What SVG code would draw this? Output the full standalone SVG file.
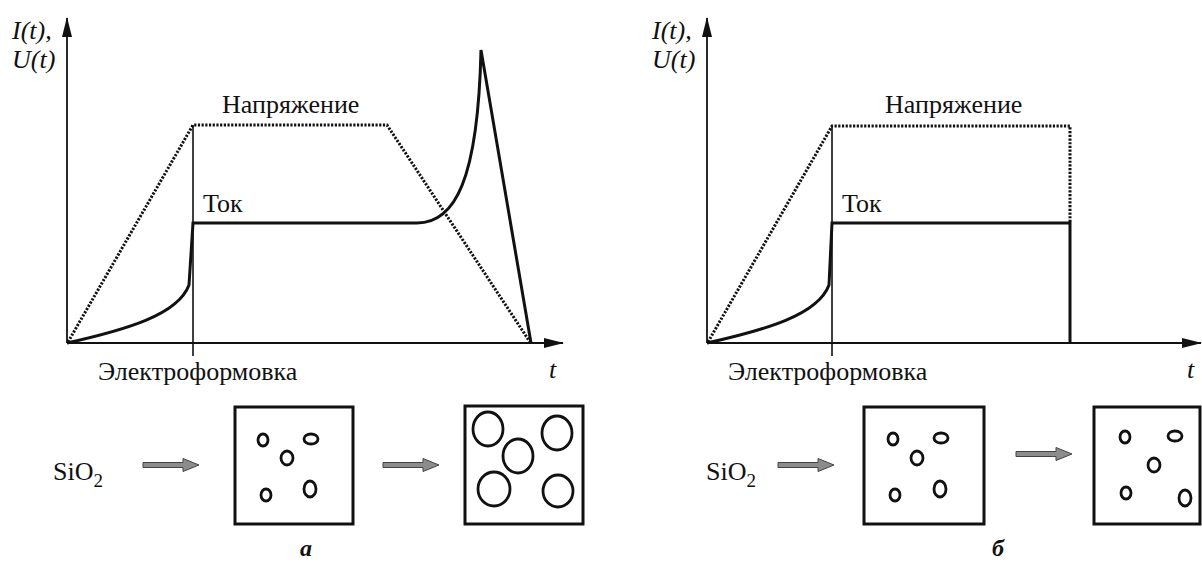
<svg xmlns="http://www.w3.org/2000/svg" width="1202" height="572" viewBox="0 0 1202 572">
<style>
text{font-family:"Liberation Serif","Times New Roman","DejaVu Serif",serif;fill:#111}
.t{font-size:26px}
.it{font-size:26px;font-style:italic}
.lb{font-size:24px;font-style:italic;font-weight:bold}
.ax{stroke:#111;stroke-width:1.8;fill:none}
.cur{stroke:#111;stroke-width:3;fill:none;stroke-linejoin:miter}
.volt{stroke:#111;stroke-width:3;fill:none;stroke-dasharray:2.2 1.5}
.thin{stroke:#111;stroke-width:1.6;fill:none}
.box{stroke:#111;stroke-width:3;fill:#fff}
.pore{stroke:#111;stroke-width:2.8;fill:none}
.garr{fill:#8c8c8c;stroke:#444;stroke-width:1}
</style>
<defs>
<marker id="ah" markerWidth="20" markerHeight="12" refX="19" refY="5" orient="auto" markerUnits="userSpaceOnUse">
<path d="M0,0 L20,5 L0,10 Z" fill="#111"/>
</marker>
<path id="garrow" class="garr" d="M0,-2.5 L40,-2.5 L40,-6.5 L56,0 L40,6.5 L40,2.5 L0,2.5 Z"/>
</defs>

<g id="connectors">
<line class="ax" x1="67" y1="343" x2="67" y2="18" marker-end="url(#ah)"/>
<line class="ax" x1="67" y1="343" x2="563" y2="343" marker-end="url(#ah)"/>
<line class="ax" x1="707" y1="343" x2="707" y2="18" marker-end="url(#ah)"/>
<line class="ax" x1="707" y1="343" x2="1201" y2="343" marker-end="url(#ah)"/>
</g>

<g id="panel-a-graph">
<line class="thin" x1="193" y1="125" x2="193" y2="356"/>
<path class="volt" d="M68,342 L193,125 L387,125 L530,342"/>
<path class="cur" d="M67,343 C125,330 178,315 189,285 L193,223 L417,223 C455,223 478,180 481,50 L531,343"/>
</g>

<g id="panel-b-graph">
<line class="thin" x1="832" y1="126" x2="832" y2="356"/>
<path class="volt" d="M708,342 L832,126 L1070,126 L1070,223"/>
<path class="cur" d="M707,343 C765,330 818,315 829,285 L832,223 L1070,223 L1070,343"/>
</g>

<g id="labels-a">
<text class="it" x="12" y="39">I(t),</text>
<text class="it" x="12" y="68">U(t)</text>
<text class="t" x="222" y="113">Напряжение</text>
<text class="t" x="203" y="212">Ток</text>
<text class="t" x="98" y="380">Электроформовка</text>
<text class="it" x="549" y="378">t</text>
<text class="lb" x="300" y="556">а</text>
</g>

<g id="labels-b">
<text class="it" x="652" y="39">I(t),</text>
<text class="it" x="652" y="68">U(t)</text>
<text class="t" x="885" y="113">Напряжение</text>
<text class="t" x="842" y="212">Ток</text>
<text class="t" x="728" y="380">Электроформовка</text>
<text class="it" x="1187" y="378">t</text>
<text class="lb" x="992" y="556">б</text>
</g>

<g id="bottom-a">
<text class="t" x="53" y="480">SiO<tspan font-size="19" dy="7">2</tspan></text>
<use href="#garrow" x="143" y="465"/>
<g id="sample-a1">
<rect class="box" x="235" y="407" width="118" height="117"/>
<ellipse class="pore" cx="263" cy="440" rx="5" ry="6"/>
<ellipse class="pore" cx="311" cy="439" rx="7" ry="5"/>
<ellipse class="pore" cx="287" cy="458" rx="6" ry="7"/>
<ellipse class="pore" cx="266" cy="495" rx="5" ry="6"/>
<ellipse class="pore" cx="310" cy="489" rx="6" ry="8"/>
</g>
<use href="#garrow" x="383" y="465"/>
<g id="sample-a2">
<rect class="box" x="465" y="406" width="118" height="118"/>
<ellipse class="pore" cx="488" cy="429" rx="15" ry="17"/>
<ellipse class="pore" cx="557" cy="433" rx="15" ry="17"/>
<ellipse class="pore" cx="518" cy="456" rx="15" ry="17"/>
<ellipse class="pore" cx="494" cy="489" rx="16" ry="17"/>
<ellipse class="pore" cx="558" cy="491" rx="15" ry="16"/>
</g>
</g>

<g id="bottom-b">
<text class="t" x="706" y="480">SiO<tspan font-size="19" dy="7">2</tspan></text>
<use href="#garrow" x="778" y="465"/>
<g id="sample-b1">
<rect class="box" x="864" y="407" width="120" height="117"/>
<ellipse class="pore" cx="893" cy="439" rx="5" ry="6"/>
<ellipse class="pore" cx="941" cy="438" rx="7" ry="5"/>
<ellipse class="pore" cx="917" cy="458" rx="6" ry="7"/>
<ellipse class="pore" cx="895" cy="495" rx="5" ry="6"/>
<ellipse class="pore" cx="940" cy="489" rx="6" ry="8"/>
</g>
<use href="#garrow" x="1016" y="454"/>
<g id="sample-b2">
<rect class="box" x="1094" y="407" width="106" height="117"/>
<ellipse class="pore" cx="1125" cy="437" rx="5" ry="6"/>
<ellipse class="pore" cx="1175" cy="436" rx="7" ry="5"/>
<ellipse class="pore" cx="1154" cy="465" rx="6" ry="7"/>
<ellipse class="pore" cx="1126" cy="493" rx="5" ry="6"/>
<ellipse class="pore" cx="1185" cy="498" rx="6" ry="8"/>
</g>
</g>
</svg>
